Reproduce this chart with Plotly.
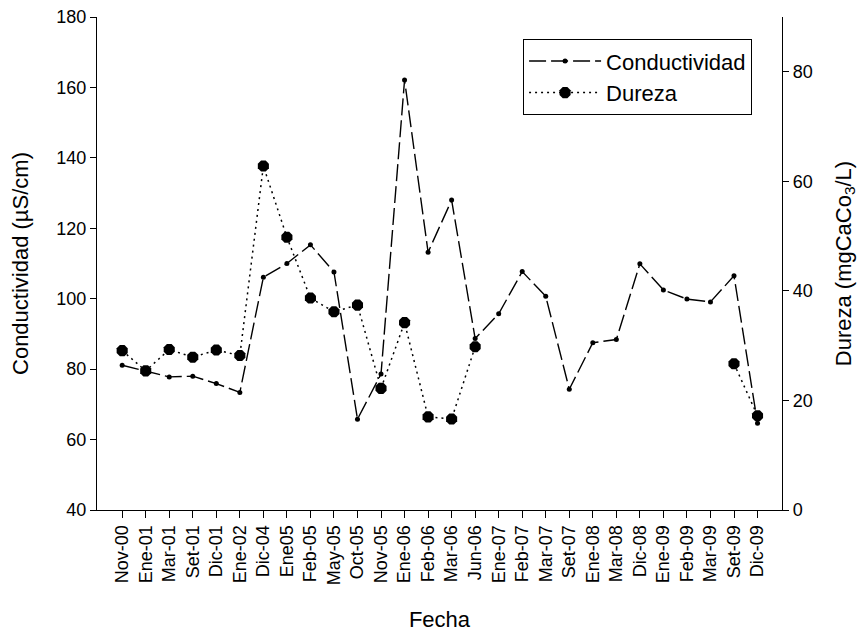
import plotly.graph_objects as go

fechas = ["Nov-00", "Ene-01", "Mar-01", "Set-01", "Dic-01", "Ene-02", "Dic-04", "Ene05",
          "Feb-05", "May-05", "Oct-05", "Nov-05", "Ene-06", "Feb-06", "Mar-06", "Jun-06",
          "Ene-07", "Feb-07", "Mar-07", "Set-07", "Ene-08", "Mar-08", "Dic-08", "Ene-09",
          "Feb-09", "Mar-09", "Set-09", "Dic-09"]

conductividad = [81.1, 79.4, 77.8, 78.0, 75.9, 73.4, 106.1, 110.0,
                 115.3, 107.6, 65.8, 78.6, 162.1, 113.2, 128.0, 88.7,
                 95.7, 107.7, 100.7, 74.3, 87.5, 88.4, 109.9, 102.5,
                 99.9, 99.1, 106.5, 64.6]

dureza = [29.1, 25.4, 29.3, 27.9, 29.2, 28.2, 62.8, 49.8,
          38.7, 36.2, 37.4, 22.2, 34.2, 17.0, 16.6, 29.8,
          None, None, None, None, None, None, None, None,
          None, None, 26.7, 17.2]

left_ticks = [40, 60, 80, 100, 120, 140, 160, 180]
right_ticks = [0, 20, 40, 60, 80]

x = list(range(len(fechas)))
FONT = "Liberation Sans, Arial, sans-serif"

fig = go.Figure()
fig.add_trace(go.Scatter(
    x=x, y=conductividad, name="Conductividad", mode="lines+markers",
    line=dict(color="black", width=1.4, dash="17px,5px"),
    marker=dict(symbol="circle", size=5, color="black"),
    yaxis="y"))
fig.add_trace(go.Scatter(
    x=x, y=dureza, name="Dureza", mode="lines+markers",
    line=dict(color="black", width=1.5, dash="2px,4px"),
    marker=dict(symbol="octagon", size=12, color="black"),
    connectgaps=False,
    yaxis="y2"))

fig.update_layout(
    width=857, height=625,
    margin=dict(l=89, r=83, t=9, b=123),
    paper_bgcolor="white", plot_bgcolor="white",
    font=dict(family=FONT, color="black", size=18),
    showlegend=True,
    legend=dict(x=0.622, y=0.955, xanchor="left", yanchor="top",
                bordercolor="black", borderwidth=1, bgcolor="white",
                font=dict(size=22, family=FONT), itemwidth=72,
                tracegroupgap=0),
    xaxis=dict(range=[-1.07, 28.04], tickmode="array", tickvals=x, ticktext=fechas,
               tickangle=-90, ticks="outside", ticklen=7, tickcolor="black",
               showline=True, linecolor="black", linewidth=1.2, showgrid=False,
               zeroline=False, tickfont=dict(size=18), automargin=False,
               ticklabeloverflow="allow",
               title=dict(text="Fecha", font=dict(size=22), standoff=27)),
    yaxis=dict(range=[40, 180], tickmode="array", tickvals=left_ticks,
               ticks="outside", ticklen=6, tickcolor="black",
               showline=True, linecolor="black", linewidth=1.2, showgrid=False,
               zeroline=False, tickfont=dict(size=18), automargin=False,
               ticklabeloverflow="allow",
               title=dict(text="Conductividad (µS/cm)", font=dict(size=22), standoff=21)),
    yaxis2=dict(range=[0, 90], tickmode="array", tickvals=right_ticks,
                overlaying="y", side="right",
                ticks="outside", ticklen=6, tickcolor="black",
                showline=True, linecolor="black", linewidth=1.2, showgrid=False,
                zeroline=False, tickfont=dict(size=18), automargin=False,
                ticklabeloverflow="allow",
                title=dict(text="Dureza (mgCaCo<sub>3</sub>/L)", font=dict(size=22), standoff=23)),
)

fig.write_html("out.html")
